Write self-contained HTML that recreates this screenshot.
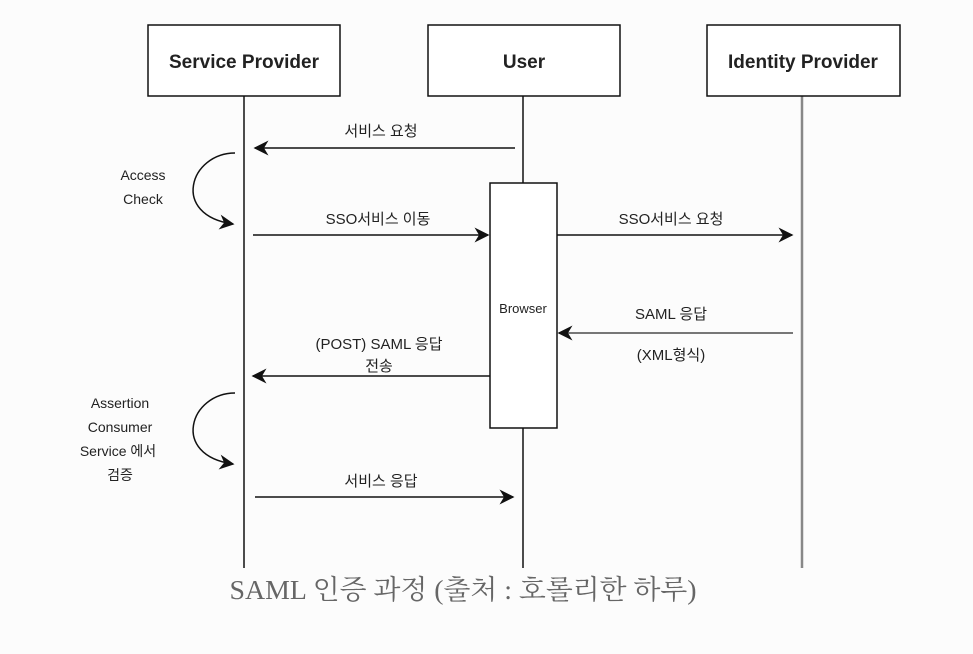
<!DOCTYPE html>
<html><head><meta charset="utf-8"><style>
body{margin:0;background:#fcfcfc;width:973px;height:649px;overflow:hidden}
svg text{font-family:"Liberation Sans","Noto Sans CJK KR",sans-serif;fill:#222}
</style></head><body>
<svg width="973" height="649" xmlns="http://www.w3.org/2000/svg">
<defs><marker id="a" viewBox="0 0 10 10" refX="9" refY="5" markerWidth="15" markerHeight="15" markerUnits="userSpaceOnUse" orient="auto"><path d="M0,0 L10,5 L0,10 L3,5 z" fill="#111"/></marker></defs>
<g stroke="#111" stroke-width="1.5" fill="none">
<line x1="244" y1="96" x2="244" y2="568"/>
<line x1="523" y1="96" x2="523" y2="568"/>
</g>
<line x1="802" y1="96" x2="802" y2="568" stroke="#888" stroke-width="2.5"/>
<g stroke="#111" stroke-width="1.5" fill="#fff">
<rect x="148" y="25" width="192" height="71"/>
<rect x="428" y="25" width="192" height="71"/>
<rect x="707" y="25" width="193" height="71"/>
<rect x="490" y="183" width="67" height="245"/>
</g>
<g font-weight="bold" font-size="19" text-anchor="middle">
<text x="244" y="68">Service Provider</text>
<text x="524" y="68">User</text>
<text x="803" y="68">Identity Provider</text>
</g>
<text x="523" y="313" font-size="13" text-anchor="middle">Browser</text>
<g stroke="#111" stroke-width="1.5" fill="none" marker-end="url(#a)">
<line x1="515" y1="148" x2="255" y2="148"/>
<line x1="253" y1="235" x2="488" y2="235"/>
<line x1="557" y1="235" x2="792" y2="235"/>
<line x1="490" y1="376" x2="253" y2="376"/>
<line x1="255" y1="497" x2="513" y2="497"/>
<path d="M235,153 C190,153 170,215 233,224"/>
<path d="M235,393 C190,393 170,455 233,464"/>
</g>
<line x1="793" y1="333" x2="559" y2="333" stroke="#777" stroke-width="2" marker-end="url(#a)"/>
<g font-size="15" text-anchor="middle">
<text x="381" y="136">서비스 요청</text>
<text x="378" y="224">SSO서비스 이동</text>
<text x="671" y="224">SSO서비스 요청</text>
<text x="671" y="319">SAML 응답</text>
<text x="671" y="360">(XML형식)</text>
<text x="379" y="349">(POST) SAML 응답</text>
<text x="379" y="371">전송</text>
<text x="381" y="486">서비스 응답</text>
</g>
<g font-size="14" text-anchor="middle">
<text x="143" y="180">Access</text>
<text x="143" y="204">Check</text>
<text x="120" y="408">Assertion</text>
<text x="120" y="432">Consumer</text>
<text x="118" y="456">Service 에서</text>
<text x="120" y="480">검증</text>
</g>
<text x="463" y="599" font-size="27" text-anchor="middle" textLength="467" lengthAdjust="spacingAndGlyphs" style="font-family:'Liberation Serif','Noto Serif CJK SC',serif;fill:#666">SAML 인증 과정 (출처 : 호롤리한 하루)</text>
</svg>
</body></html>
